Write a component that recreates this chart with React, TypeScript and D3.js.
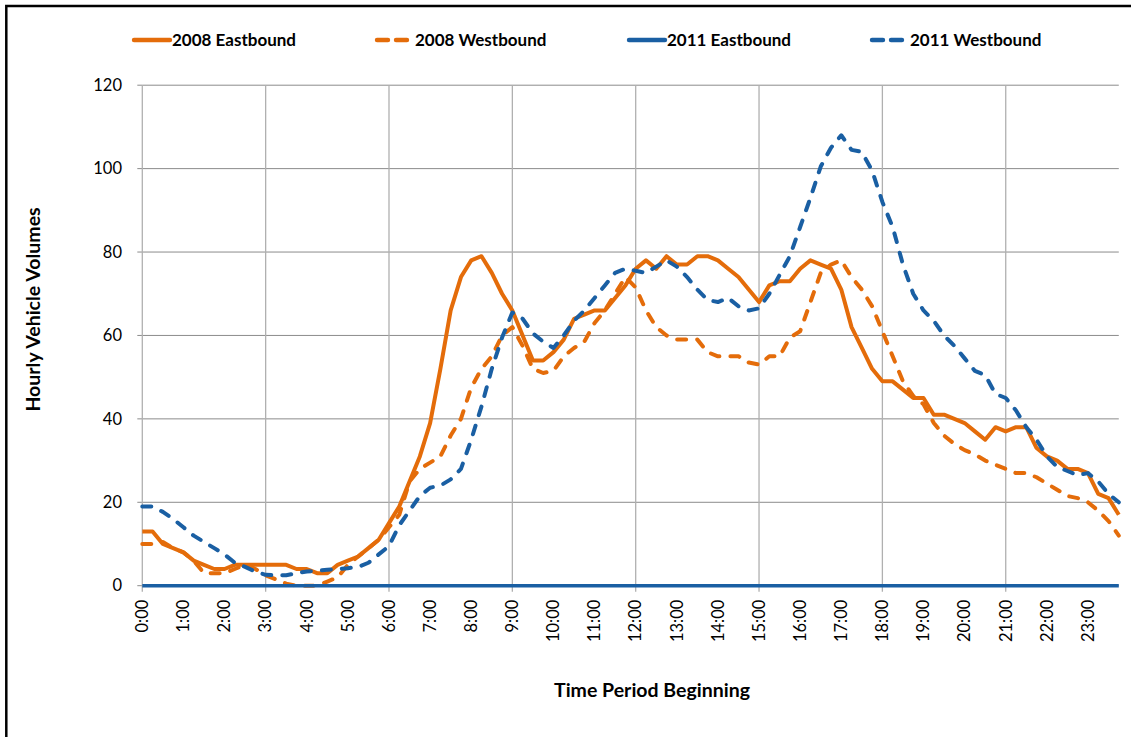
import React from "react";
import * as d3 from "d3";

// 15-minute periods across the day
const times: string[] = d3.range(96).map(
  (i) => `${Math.floor(i / 4)}:${String((i % 4) * 15).padStart(2, "0")}`
);

const eastbound2008 = [
  13, 13, 10, 9, 8, 6, 5, 4, 4, 5,
  5, 5, 5, 5, 5, 4, 4, 3, 3, 5,
  6, 7, 9, 11, 15, 19, 25, 31, 39, 52,
  66, 74, 78, 79, 75, 70, 66, 60, 54, 54,
  56, 59, 64, 65, 66, 66, 69, 72, 76, 78,
  76, 79, 77, 77, 79, 79, 78, 76, 74, 71,
  68, 72, 73, 73, 76, 78, 77, 76, 71, 62,
  57, 52, 49, 49, 47, 45, 45, 41, 41, 40,
  39, 37, 35, 38, 37, 38, 38, 33, 31, 30,
  28, 28, 27, 22, 21, 17,
];

const westbound2008 = [
  10, 10, 10.5, 9, 8, 6, 3, 3, 3, 4,
  5, 4, 2.5, 1.5, 0.5, 0, 0, 0, 1, 2,
  5, 7, 9, 11, 14, 17, 25, 28, 29.5, 31,
  36, 40, 47.5, 52, 55, 60, 62, 57.5, 52, 51,
  51.5, 55, 57, 58.5, 63, 66, 70, 74, 71.5, 66,
  62, 60, 59, 59, 59, 56, 55, 55, 55, 53.5,
  53, 55, 55, 59.5, 61, 68, 75, 77, 78, 74,
  71, 67, 61, 55, 49, 45.5, 43.5, 39, 36, 34,
  32.5, 31.5, 30, 29, 28, 27, 27, 26, 24.5, 23,
  21.5, 21, 20, 18, 15.5, 12,
];

const eastbound2011 = [
  0, 0, 0, 0, 0, 0, 0, 0, 0, 0,
  0, 0, 0, 0, 0, 0, 0, 0, 0, 0,
  0, 0, 0, 0, 0, 0, 0, 0, 0, 0,
  0, 0, 0, 0, 0, 0, 0, 0, 0, 0,
  0, 0, 0, 0, 0, 0, 0, 0, 0, 0,
  0, 0, 0, 0, 0, 0, 0, 0, 0, 0,
  0, 0, 0, 0, 0, 0, 0, 0, 0, 0,
  0, 0, 0, 0, 0, 0, 0, 0, 0, 0,
  0, 0, 0, 0, 0, 0, 0, 0, 0, 0,
  0, 0, 0, 0, 0, 0,
];

const westbound2011 = [
  19, 19, 17.7, 16, 14, 12, 10.5, 9, 7.5, 5.5,
  4.5, 3.4, 2.6, 2.5, 2.5, 3, 3.4, 3.6, 3.8, 4,
  4.2, 4.5, 5.5, 7.5, 9.5, 14.5, 18, 21.5, 23.5, 24,
  25.5, 28, 35, 43, 52, 59.5, 65.5, 64, 60.5, 58.5,
  57, 60, 63.5, 66, 69, 72, 75, 76, 75.5, 75,
  76.5, 78, 76.5, 74, 71, 68.5, 68, 69, 67, 66,
  66.5, 70, 74.5, 79, 86, 93, 100.5, 105, 108, 104.5,
  104, 99.5, 92, 86, 77, 70, 66, 63.5, 60, 57.5,
  54.5, 51.5, 50.5, 46, 45, 42, 38, 35, 31, 28.5,
  27.5, 26.5, 27, 25, 22, 20,
];

const yTicks = [0, 20, 40, 60, 80, 100, 120];

const seriesNames = ["2008 Eastbound", "2008 Westbound", "2011 Eastbound", "2011 Westbound"];

const ORANGE = "#E46C0A";
const BLUE = "#1A5FA3";

const series = [
  { name: seriesNames[0], values: eastbound2008, color: ORANGE, dashed: false },
  { name: seriesNames[1], values: westbound2008, color: ORANGE, dashed: true },
  { name: seriesNames[2], values: eastbound2011, color: BLUE, dashed: false },
  { name: seriesNames[3], values: westbound2011, color: BLUE, dashed: true },
];

const W = 1131;
const H = 737;
const left = 142.3;
const right = 1118.8;
const top = 85.2;
const bottom = 585.7;

const FONT = "Lato, 'Open Sans', sans-serif";
const DASH = "9 11";
const LW = 4;

export default function App() {
  const x = d3.scalePoint<string>().domain(times).range([left, right]);
  const y = d3.scaleLinear().domain([0, 120]).range([bottom, top]);

  const line = d3
    .line<number>()
    .x((_, i) => x(times[i]) as number)
    .y((d) => y(d));

  const gridTimes = times.filter((_, i) => i % 12 === 0);
  const labelTimes = times.filter((_, i) => i % 4 === 0);

  const legendX = [134, 377, 629, 872];

  return (
    <svg
      width={W}
      height={H}
      style={{ position: "absolute", left: 0, top: 0, background: "#fff" }}
    >
      <rect x={0} y={0} width={W} height={H} fill="#fff" />
      <rect
        x={6.3}
        y={6}
        width={W + 20}
        height={H + 20}
        fill="none"
        stroke="#000"
        strokeWidth={2.5}
      />

      {/* horizontal grid */}
      {yTicks.map((t) => (
        <g key={"h" + t}>
          <line x1={left} x2={right} y1={y(t)} y2={y(t)} stroke="#8c8c8c" strokeWidth={1} />
          <line x1={left - 5} x2={left} y1={y(t)} y2={y(t)} stroke="#8c8c8c" strokeWidth={1} />
          <text
            x={122}
            y={y(t)}
            dy="0.35em"
            textAnchor="end"
            fontFamily={FONT}
            fontSize={16.5}
            fill="#000"
          >
            {t}
          </text>
        </g>
      ))}

      {/* vertical grid */}
      {gridTimes.map((t) => (
        <g key={"v" + t}>
          <line
            x1={x(t)}
            x2={x(t)}
            y1={top}
            y2={bottom + 6}
            stroke="#b0b0b0"
            strokeWidth={1.3}
          />
        </g>
      ))}

      {/* x labels */}
      {labelTimes.map((t) => (
        <text
          key={"xl" + t}
          transform={`translate(${x(t)},${bottom + 14}) rotate(-90)`}
          dy="0.35em"
          textAnchor="end"
          fontFamily={FONT}
          fontSize={16.5}
          fill="#000"
        >
          {t}
        </text>
      ))}

      {/* series */}
      {series.map((s) => (
        <path
          key={s.name}
          d={line(s.values) || ""}
          fill="none"
          stroke={s.color}
          strokeWidth={s.values === eastbound2011 ? 3.6 : LW}
          strokeDasharray={s.dashed ? DASH : undefined}
          strokeLinecap={s.dashed ? "round" : "butt"}
          strokeLinejoin="round"
        />
      ))}

      {/* legend */}
      {series.map((s, i) => (
        <g key={"lg" + s.name}>
          <line
            x1={legendX[i]}
            x2={legendX[i] + 36}
            y1={40}
            y2={40}
            stroke={s.color}
            strokeWidth={LW + 0.4}
            strokeDasharray={s.dashed ? "11 8" : undefined}
            strokeLinecap="round"
          />
          <text
            x={legendX[i] + 38}
            y={40}
            dy="0.35em"
            fontFamily={FONT}
            fontWeight="bold"
            fontSize={17}
            fill="#000"
          >
            {s.name}
          </text>
        </g>
      ))}

      {/* axis titles */}
      <text
        transform={`translate(33,309.5) rotate(-90)`}
        textAnchor="middle"
        dy="0.35em"
        fontFamily={FONT}
        fontWeight="bold"
        fontSize={19.5}
        fill="#000"
      >
        Hourly Vehicle Volumes
      </text>
      <text
        x={652}
        y={690}
        textAnchor="middle"
        dy="0.35em"
        fontFamily={FONT}
        fontWeight="bold"
        fontSize={19.5}
        fill="#000"
      >
        Time Period Beginning
      </text>
    </svg>
  );
}
